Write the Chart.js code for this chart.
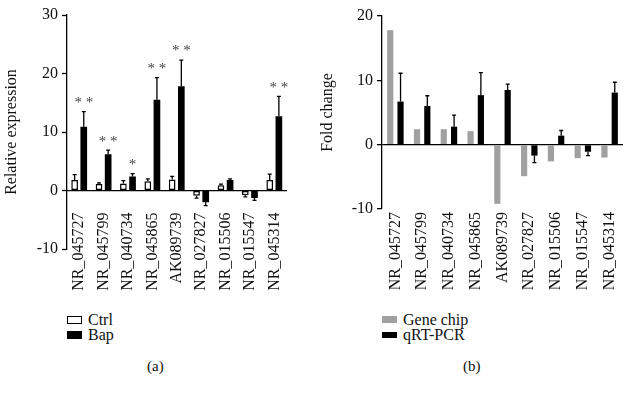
<!DOCTYPE html>
<html>
<head>
<meta charset="utf-8">
<script src="https://cdn.jsdelivr.net/npm/chart.js@4"></script>
<style>
  body { margin: 0; background: #fff; font-family: "Liberation Serif", serif; }
  #wrap { position: relative; width: 633px; height: 399px; }
  canvas { position: absolute; top: 0; }
  .legend { position: absolute; font-size: 16px; line-height: 15px; color: #111; }
  .legend div { height: 15px; display: flex; align-items: center; }
  .legend span.box { display: inline-block; width: 15px; height: 8px; margin-right: 6px; box-sizing: border-box; }
  .cap { position: absolute; font-size: 15px; color: #111; }
</style>
</head>
<body>
<div id="wrap">
  <canvas id="chartA" style="left:0"></canvas>
  <canvas id="chartB" style="left:316px"></canvas>
  <div class="legend" style="left:67px; top:312px">
    <div><span class="box" style="border:1.5px solid #000;background:#fff"></span>Ctrl</div>
    <div><span class="box" style="background:#000"></span>Bap</div>
  </div>
  <div class="legend" style="left:382px; top:312px">
    <div><span class="box" style="background:#a0a0a0;height:7px"></span>Gene chip</div>
    <div><span class="box" style="background:#000;height:6px"></span>qRT-PCR</div>
  </div>
  <div class="cap" style="left:147px; top:358px">(a)</div>
  <div class="cap" style="left:463px; top:358px">(b)</div>
</div>
<script>
const genes = ["NR_045727", "NR_045799", "NR_040734", "NR_045865", "AK089739",
               "NR_027827", "NR_015506", "NR_015547", "NR_045314"];

// panel (a)
const ctrl    = [1.8, 1.1, 1.2, 1.6, 1.9, -0.9, 0.9, -0.8, 1.8];
const ctrlErr = [0.9, 0.2, 0.5, 0.4, 0.5, 0.4, 0.2, 0.3, 1.0];
const bap     = [10.9, 6.2, 2.4, 15.5, 17.8, -2.0, 1.8, -1.3, 12.7];
const bapErr  = [2.6, 0.7, 0.5, 3.8, 4.5, 0.6, 0.2, 0.4, 3.4];
const stars   = ["**", "**", "*", "**", "**", "", "", "", "**"];

// panel (b)
const geneChip = [17.8, 2.4, 2.4, 2.1, -9.2, -4.9, -2.6, -2.1, -2.0];
const qpcr     = [6.7, 6.0, 2.8, 7.7, 8.5, -1.7, 1.4, -1.1, 8.1];
const qpcrErr  = [4.4, 1.6, 1.8, 3.5, 0.9, 1.1, 0.8, 0.6, 1.6];

const serif = "'Liberation Serif', 'DejaVu Serif', serif";
Chart.defaults.font.family = serif;
Chart.defaults.color = '#111';

// draws one-sided error bars and the significance stars
const errorBars = {
  id: 'errorBars',
  afterDatasetsDraw(chart) {
    const ctx = chart.ctx;
    const y = chart.scales.y;
    chart.data.datasets.forEach((ds, di) => {
      if (!ds.err) return;
      const meta = chart.getDatasetMeta(di);
      meta.data.forEach((bar, i) => {
        const v = ds.data[i];
        const end = v >= 0 ? v + ds.err[i] : v - ds.err[i];
        const y0 = y.getPixelForValue(v);
        const y1 = y.getPixelForValue(end);
        ctx.save();
        ctx.strokeStyle = '#000';
        ctx.lineWidth = 1.3;
        ctx.beginPath();
        ctx.moveTo(bar.x, y0);
        ctx.lineTo(bar.x, y1);
        ctx.moveTo(bar.x - 2, y1);
        ctx.lineTo(bar.x + 2, y1);
        ctx.stroke();
        if (ds.stars && ds.stars[i]) {
          ctx.fillStyle = '#444';
          ctx.font = '15px ' + serif;
          ctx.textAlign = 'center';
          ctx.textBaseline = 'bottom';
          ctx.fillText(ds.stars[i].split('').join(' '), bar.x, y1 - 1);
        }
        ctx.restore();
      });
    });
  }
};

function setup(id, w, h) {
  const c = document.getElementById(id);
  c.width = w; c.height = h;
  c.style.width = w + 'px'; c.style.height = h + 'px';
  return c;
}

new Chart(setup('chartA', 316, 300), {
  type: 'bar',
  data: {
    labels: genes,
    datasets: [
      { label: 'Ctrl', data: ctrl, err: ctrlErr, backgroundColor: '#fff',
        borderColor: '#000', borderWidth: 1.5, borderSkipped: false,
        barPercentage: 0.73, categoryPercentage: 0.75 },
      { label: 'Bap', data: bap, err: bapErr, stars: stars, backgroundColor: '#000',
        borderWidth: 0, barPercentage: 0.73, categoryPercentage: 0.75 }
    ]
  },
  options: {
    responsive: false,
    animation: false,
    layout: { padding: { top: 15, right: 9, left: 0, bottom: 51 } },
    plugins: { legend: { display: false }, tooltip: { enabled: false } },
    scales: {
      x: {
        position: { y: 0 },
        grid: { display: false, drawTicks: false },
        border: { display: true, color: '#000', width: 1.3 },
        ticks: { minRotation: 90, maxRotation: 90, padding: 22, color: '#111',
                 font: { size: 16 } },
        afterFit(s) { s.height = 0; }
      },
      y: {
        min: -10, max: 30,
        ticks: { stepSize: 10, padding: 4, color: '#111', font: { size: 16 } },
        grid: { display: true, drawOnChartArea: false, tickLength: 5, tickColor: '#000', tickWidth: 1.3 },
        border: { display: true, color: '#000', width: 1.3 },
        title: { display: true, text: 'Relative expression', color: '#111',
                 font: { size: 16 }, padding: 2 },
        afterFit(s) { s.width = 67; }
      }
    }
  },
  plugins: [errorBars]
});

new Chart(setup('chartB', 317, 300), {
  type: 'bar',
  data: {
    labels: genes,
    datasets: [
      { label: 'Gene chip', data: geneChip, backgroundColor: '#a0a0a0', borderWidth: 0,
        barPercentage: 0.6, categoryPercentage: 0.77 },
      { label: 'qRT-PCR', data: qpcr, err: qpcrErr, backgroundColor: '#000', borderWidth: 0,
        barPercentage: 0.6, categoryPercentage: 0.77 }
    ]
  },
  options: {
    responsive: false,
    animation: false,
    layout: { padding: { top: 16, right: 10, left: 0, bottom: 0 } },
    plugins: { legend: { display: false }, tooltip: { enabled: false } },
    scales: {
      x: {
        grid: { display: false, drawTicks: false },
        border: { display: false },
        ticks: { minRotation: 90, maxRotation: 90, padding: 3, color: '#111',
                 font: { size: 16 } },
        afterFit(s) { s.height = 91; }
      },
      y: {
        min: -10, max: 20,
        ticks: { stepSize: 10, padding: 4, color: '#111', font: { size: 16 } },
        grid: { display: true, drawOnChartArea: true, tickLength: 5, tickWidth: 1.3,
                tickColor: '#000', lineWidth: 1.3,
                color: (c) => c.tick && c.tick.value === 0 ? '#000' : 'rgba(0,0,0,0)' },
        border: { display: true, color: '#000', width: 1.3 },
        title: { display: true, text: 'Fold change', color: '#111',
                 font: { size: 16 }, padding: 2 },
        afterFit(s) { s.width = 66; }
      }
    }
  },
  plugins: [errorBars]
});
</script>
</body>
</html>
